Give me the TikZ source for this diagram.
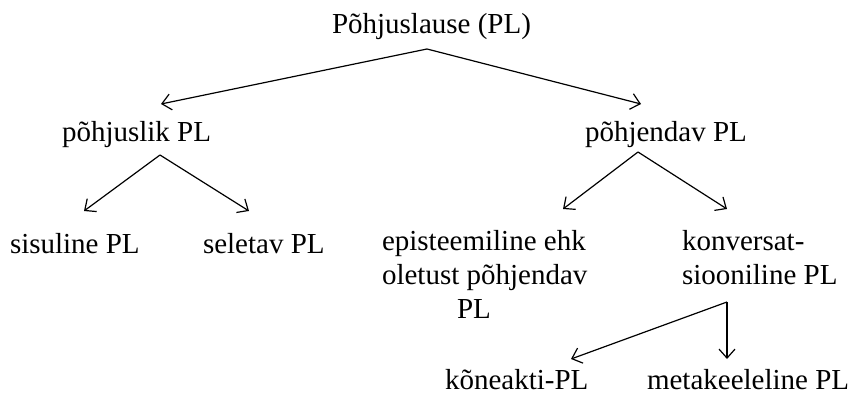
\documentclass[tikz,border=0pt]{standalone}
\usepackage{fontspec}
\setmainfont{Liberation Serif}
\usetikzlibrary{arrows.meta}
\tikzset{
  lbl/.style={anchor=base west, inner sep=0pt, outer sep=0pt, font=\fontsize{29}{34}\selectfont, align=left},
  arr/.style={line width=1.2pt, -{Straight Barb[length=9pt,width=16pt,line width=1.2pt]}}
}
\begin{document}
\begin{tikzpicture}[x=1pt,y=-1pt]
\useasboundingbox (0,0) rectangle (853,395);
\node[lbl] (root) at (332,34) {Põhjuslause (PL)};
\node[lbl] (pj) at (62,142) {põhjuslik PL};
\node[lbl] (pd) at (585,142) {põhjendav PL};
\node[lbl] (sis) at (10,253) {sisuline PL};
\node[lbl] (sel) at (203,253) {seletav PL};
\node[lbl] (epi) at (382,318) {episteemiline ehk\\oletust põhjendav\\\hspace*{75pt}PL};
\node[lbl] (kon) at (682,284) {konversat-\\siooniline PL};
\node[lbl] (kone) at (445,389) {kõneakti-PL};
\node[lbl] (meta) at (647,389) {metakeeleline PL};
% connector ends
\coordinate (root-o) at (427,49);
\coordinate (pj-i) at (161,104);
\coordinate (pd-i) at (641,104);
\coordinate (pj-o) at (160,155);
\coordinate (sis-i) at (84,211);
\coordinate (sel-i) at (249,211);
\coordinate (pd-o) at (638,152);
\coordinate (epi-i) at (563,209);
\coordinate (kon-i) at (727,209);
\coordinate (kon-o) at (727,302);
\coordinate (kone-i) at (571,359);
\coordinate (meta-i) at (727,359);
\draw[arr] (root-o) -- (pj-i);
\draw[arr] (root-o) -- (pd-i);
\draw[arr] (pj-o) -- (sis-i);
\draw[arr] (pj-o) -- (sel-i);
\draw[arr] (pd-o) -- (epi-i);
\draw[arr] (pd-o) -- (kon-i);
\draw[arr] (kon-o) -- (kone-i);
\draw[arr] (kon-o) -- (meta-i);
\end{tikzpicture}
\end{document}
